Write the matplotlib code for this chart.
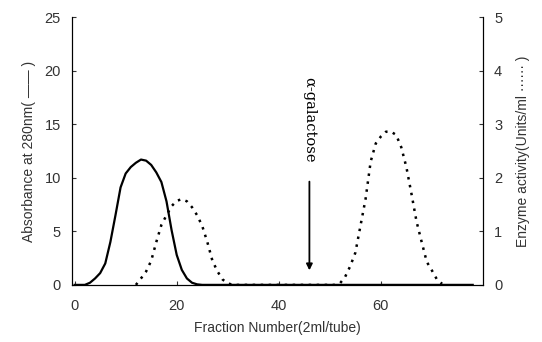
import numpy as np
import matplotlib.pyplot as plt

plt.rcParams['font.family'] = ['Liberation Sans', 'DejaVu Sans']

# fraction numbers and absorbance at 280 nm (solid line)
fractions = np.arange(0, 79)
absorbance = [0, 0, 0, 0.2, 0.6, 1.1, 2.0, 4.0, 6.5, 9.1,
              10.4, 11.0, 11.4, 11.7, 11.6, 11.2, 10.5, 9.6, 7.8, 5.1,
              2.8, 1.4, 0.6, 0.2, 0.05] + [0] * 54

# enzyme activity (dotted line), fractions 12..72
enz_fractions = np.arange(12, 73)
enzyme = [0.0, 0.12, 0.25, 0.45, 0.8, 1.12, 1.3, 1.47, 1.57, 1.6,
          1.56, 1.45, 1.3, 1.1, 0.8, 0.45, 0.25, 0.1, 0.03] + [0] * 20 + \
         [0.0, 0.03, 0.15, 0.35, 0.6, 1.1, 1.6, 2.3, 2.64, 2.77,
          2.86, 2.86, 2.8, 2.57, 2.2, 1.7, 1.18, 0.8, 0.43, 0.27,
          0.1, 0.02]

txt = '#333333'

fig = plt.figure(figsize=(5.42, 3.42), dpi=100)
ax = fig.add_axes([0.133, 0.167, 0.758, 0.783])
ax2 = ax.twinx()

ax.plot(fractions, absorbance, color='black', lw=1.6)
ax2.plot(enz_fractions, enzyme, color='black', lw=1.8,
         linestyle=(0, (1, 2.2)))

ax.set_xlim(-0.5, 80)
ax.set_ylim(0, 25)
ax2.set_ylim(0, 5)
ax.set_xticks([0, 20, 40, 60])
ax.set_yticks(range(0, 26, 5))
ax2.set_yticks(range(0, 6))

for a in (ax, ax2):
    a.spines['top'].set_visible(False)
    a.tick_params(direction='in', length=3, labelsize=10.5, colors=txt,
                  pad=8)
ax.tick_params(axis='x', pad=10)

ax.set_xlabel('Fraction Number(2ml/tube)', fontsize=10, color=txt,
              labelpad=6)
ax.set_ylabel('Absorbance at 280nm( \u2014\u2014 )', fontsize=10,
              color=txt, labelpad=6)
ax2.set_ylabel('Enzyme activity(Units/ml \u00b7\u00b7\u00b7\u00b7\u00b7\u00b7 )',
               fontsize=10, color=txt, rotation=90, labelpad=10)

# substrate elution marker
ax.annotate('', xy=(46, 1.1), xytext=(46, 9.9),
            arrowprops=dict(arrowstyle='-|>', color='black', lw=1.3,
                            mutation_scale=9))
ax.text(46, 19.4, '\u03b1-galactose', rotation=-90, ha='center', va='top',
        fontsize=10.5, family='DejaVu Serif', color='black')

fig.savefig('out.png')
